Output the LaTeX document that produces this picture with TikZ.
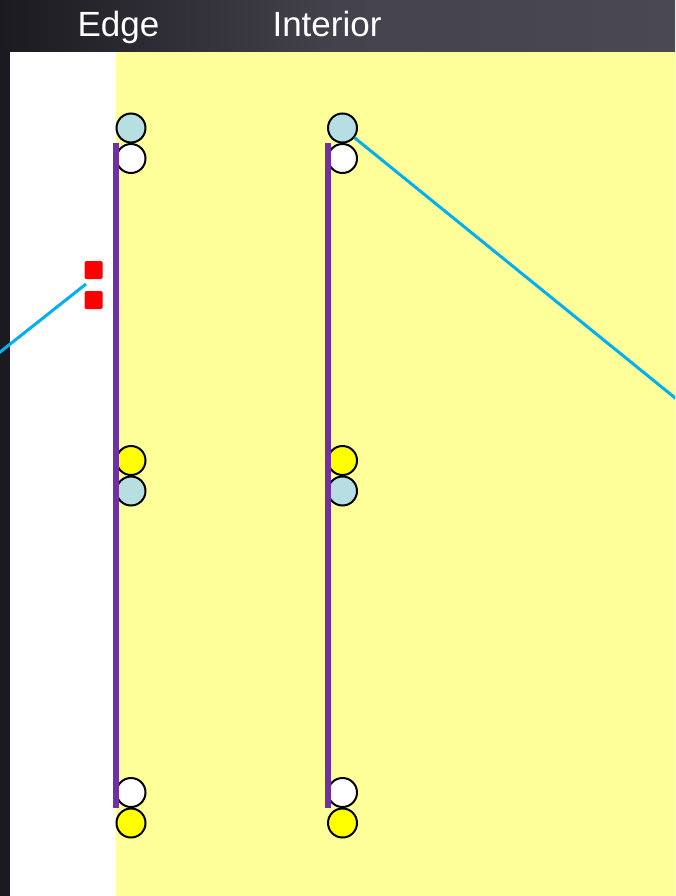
\documentclass[tikz,border=0pt]{standalone}
\usepackage{fontspec}
\setmainfont{Liberation Sans}
\definecolor{bgyellow}{HTML}{FFFF99}
\definecolor{ltblue}{HTML}{B7DEE3}
\definecolor{cyellow}{HTML}{FFFF00}
\definecolor{purp}{HTML}{7030A0}
\definecolor{cyanline}{HTML}{00B0F0}
\definecolor{darkA}{HTML}{1B1A20}
\definecolor{darkB}{HTML}{4A4852}
\definecolor{darkM}{HTML}{44424C}
\begin{document}
\begin{tikzpicture}[x=1pt,y=-1pt,
  ball/.style={circle,draw=black,line width=2pt,minimum size=29pt,inner sep=0pt},
  redsq/.style={rectangle,fill=red,minimum size=18pt,inner sep=0pt,rounded corners=1.5pt},
  strand/.style={draw=purp,line width=6pt},
  link/.style={draw=cyanline,line width=3pt},
  head/.style={text=white,font=\fontsize{35}{40}\selectfont,anchor=base}]
\useasboundingbox (0,0) rectangle (675,896);
\begin{scope}
\clip (0,0) rectangle (675,896);
% backgrounds
\shade[left color=darkA,right color=darkB,middle color=darkM] (0,0) rectangle (675,52);
\fill[darkA] (0,52) rectangle (10,896);
\fill[white] (10,52) rectangle (116,896);
\fill[bgyellow] (116,52) rectangle (675,896);
% titles
\node[head] (tEdge) at (118.5,37) {Edge};
\node[head] (tInt) at (327,37) {Interior};
% circles, left column
\node[ball,fill=ltblue] (l1) at (131,128) {};
\node[ball,fill=white] (l2) at (131,158.5) {};
\node[ball,fill=cyellow] (l3) at (131,460.5) {};
\node[ball,fill=ltblue] (l4) at (131,491) {};
\node[ball,fill=white] (l5) at (131,792.5) {};
\node[ball,fill=cyellow] (l6) at (131,823) {};
% circles, right column
\node[ball,fill=ltblue] (r1) at (342.5,128) {};
\node[ball,fill=white] (r2) at (342.5,158.5) {};
\node[ball,fill=cyellow] (r3) at (342.5,460.5) {};
\node[ball,fill=ltblue] (r4) at (342.5,491) {};
\node[ball,fill=white] (r5) at (342.5,792.5) {};
\node[ball,fill=cyellow] (r6) at (342.5,823) {};
% strands
\coordinate (s1top) at (116,143);
\coordinate (s1bot) at (116,808);
\coordinate (s2top) at (328,143);
\coordinate (s2bot) at (328,808);
\path[strand] (s1top) -- (s1bot);
\path[strand] (s2top) -- (s2bot);
% red squares
\node[redsq] (q1) at (93.5,270) {};
\node[redsq] (q2) at (93.5,300) {};
% cyan links
\coordinate (la) at (-10,360);
\coordinate (lb) at (86,284);
\path[link] (la) -- (lb);
\coordinate (rb) at (690,410);
\path[link] (r1) -- (rb);
\end{scope}
\end{tikzpicture}
\end{document}
